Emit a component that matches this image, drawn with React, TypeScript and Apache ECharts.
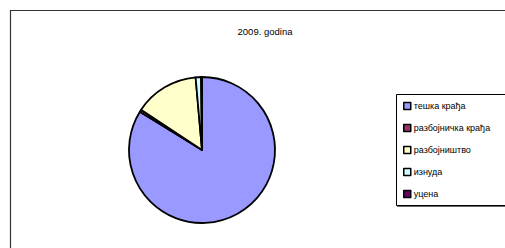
import React, { useEffect, useRef } from "react";
import * as echarts from "echarts";

const title = "2009. godina";
const categories = ["тешка крађа", "разбојничка крађа", "разбојништво", "изнуда", "уцена"];
const values = [83.8, 0.5, 14.3, 1.2, 0.2];
const colors = ["#9999FF", "#993366", "#FFFFCC", "#CCFFFF", "#660066"];

export default function App() {
  const ref = useRef<HTMLDivElement>(null);
  useEffect(() => {
    const chart = echarts.init(ref.current!, null, { renderer: "svg" });
    chart.setOption({
      animation: false,
      backgroundColor: "#ffffff",
      title: {
        text: title,
        left: 260,
        top: 21,
        textAlign: "center",
        textStyle: { fontFamily: "Liberation Sans", fontSize: 9.5, fontWeight: "normal", color: "#000" },
      },
      graphic: [
        {
          type: "rect",
          shape: { x: 10.5, y: 10.5, width: 560, height: 300 },
          style: { fill: "none", stroke: "#333", lineWidth: 1.2 },
          z: 0,
        },
        {
          type: "rect",
          shape: { x: 396.5, y: 94.5, width: 130, height: 111 },
          style: { fill: "#fff", stroke: "#000", lineWidth: 1, shadowColor: "rgba(0,0,0,0.6)", shadowOffsetX: 1, shadowOffsetY: 1 },
          z: 0,
        },
      ],
      legend: {
        orient: "vertical",
        left: 403,
        top: 100,
        padding: 0,
        icon: "rect",
        itemWidth: 7,
        itemHeight: 7,
        itemGap: 10,
        data: categories,
        selectedMode: false,
        itemStyle: { borderColor: "#000", borderWidth: 1.5 },
        textStyle: { fontFamily: "Liberation Sans", fontSize: 9, lineHeight: 12, color: "#000", padding: [0, 0, 0, -2] },
        z: 5,
      },
      series: [
        {
          type: "pie",
          center: [202, 150],
          radius: 73,
          startAngle: 90,
          clockwise: true,
          label: { show: false },
          labelLine: { show: false },
          emphasis: { disabled: true },
          itemStyle: { borderColor: "#000", borderWidth: 1.8 },
          data: categories.map((c, i) => ({ name: c, value: values[i], itemStyle: { color: colors[i] } })),
        },
      ],
    });
    return () => chart.dispose();
  }, []);
  return <div ref={ref} style={{ position: "absolute", left: 0, top: 0, width: 505, height: 248 }} />;
}
